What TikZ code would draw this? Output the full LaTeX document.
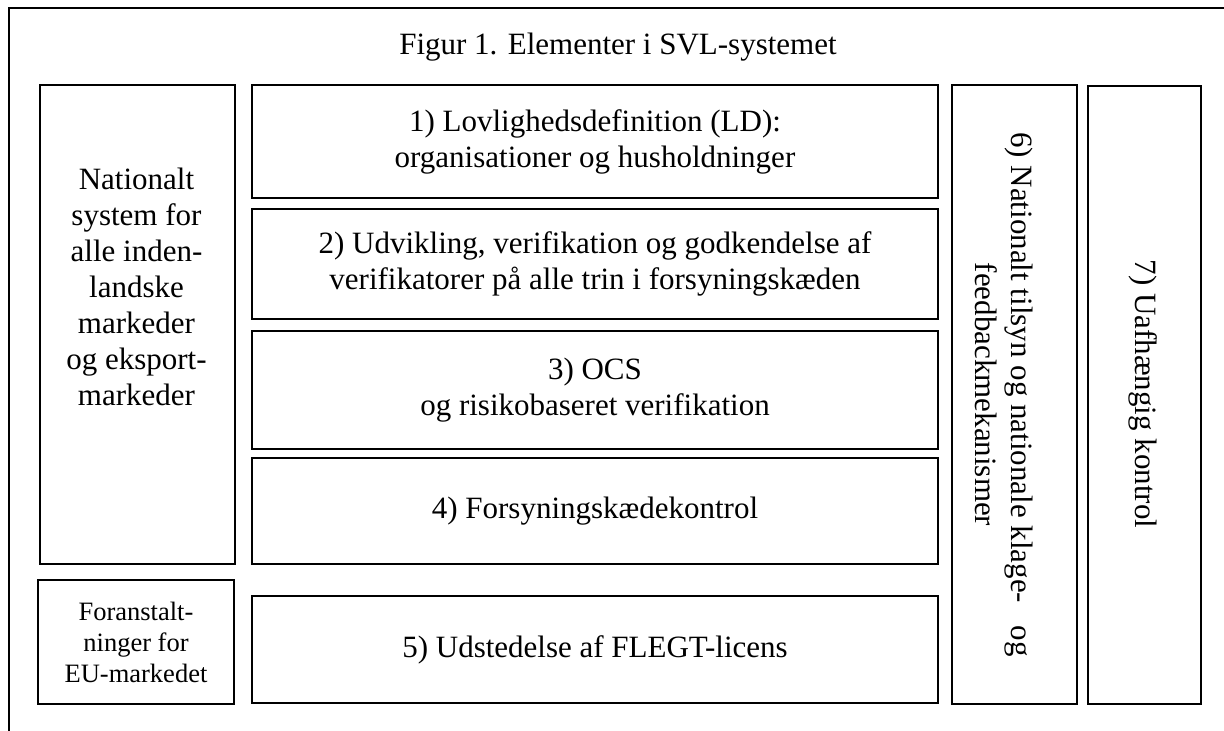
\documentclass[tikz,border=0pt]{standalone}
\usepackage{fontspec}
\setmainfont{Liberation Serif}
\begin{document}
\begin{tikzpicture}[x=1pt,y=-1pt,
  box/.style={draw, line width=2pt, inner sep=0pt, anchor=north west, align=center},
  big/.style={font=\fontsize{31}{36}\selectfont},
  small/.style={font=\fontsize{26.5}{31}\selectfont}]
\useasboundingbox (0,0) rectangle (1224,731);
\coordinate (fa) at (8.5,760);
\coordinate (fb) at (8.5,7.5);
\coordinate (fc) at (1260,7.5);
\draw[line width=2pt] (fa) -- (fb) -- (fc);
\node[big, inner sep=0pt] (title) at (618,47) {Figur 1. Elementer i SVL-systemet};
% left boxes
\node[box, minimum width=195pt, minimum height=479pt] (nat) at (39,84) {};
\node[big, inner sep=0pt, align=center, anchor=north] (nattxt) at (136.5,168)
  {Nationalt\\system for\\alle inden-\\landske\\markeder\\og eksport-\\markeder};
\node[box, small, minimum width=196pt, minimum height=124pt] (eu) at (37,579)
  {Foranstalt-\\ninger for\\EU-markedet};
% middle boxes
\node[box, big, minimum width=686pt, minimum height=113pt] (b1) at (251,84)
  {1) Lovlighedsdefinition (LD):\\organisationer og husholdninger};
\node[box, big, minimum width=686pt, minimum height=110pt] (b2) at (251,208)
  {2) Udvikling, verifikation og godkendelse af\\verifikatorer på alle trin i forsyningskæden};
\node[box, big, minimum width=686pt, minimum height=118pt] (b3) at (251,330)
  {3) OCS\\og risikobaseret verifikation};
\node[box, big, minimum width=686pt, minimum height=106pt] (b4) at (251,457)
  {4) Forsyningskædekontrol};
\node[box, big, minimum width=686pt, minimum height=107pt] (b5) at (251,595)
  {5) Udstedelse af FLEGT-licens};
% right boxes
\node[box, minimum width=125pt, minimum height=619pt] (b6) at (951,84) {};
\node[big, inner sep=0pt, align=center, rotate=-90] (b6txt) at (1004,394.5)
  {6) Nationalt tilsyn og nationale klage-\hspace{15pt} og\\feedbackmekanismer};
\node[box, minimum width=113pt, minimum height=618pt] (b7) at (1087,85) {};
\node[big, inner sep=0pt, rotate=-90] (b7txt) at (1143.5,394) {7) Uafhængig kontrol};
\end{tikzpicture}
\end{document}
